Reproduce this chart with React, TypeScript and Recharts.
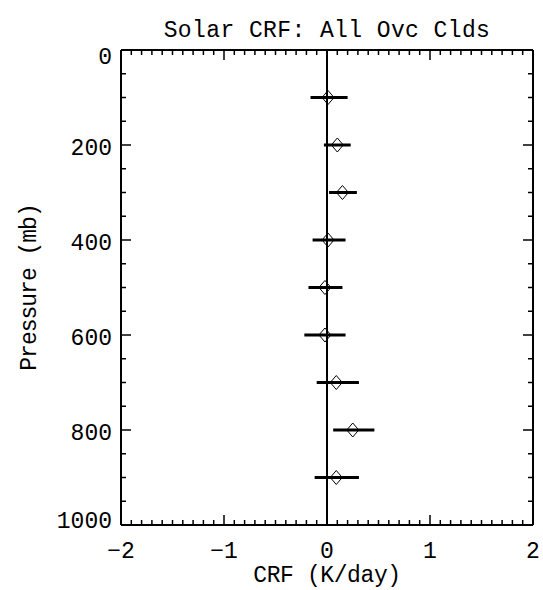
import { ScatterChart, Scatter, XAxis, YAxis, ErrorBar, ReferenceLine } from 'recharts';

// pressure levels (mb) and the cloud radiative forcing
const pressure = [100, 200, 300, 400, 500, 600, 700, 800, 900];
const crfMean = [0.01, 0.1, 0.15, 0.01, -0.02, -0.02, 0.09, 0.25, 0.09];
const crfLow = [-0.16, -0.03, 0.02, -0.14, -0.18, -0.22, -0.1, 0.06, -0.12];
const crfHigh = [0.2, 0.23, 0.29, 0.18, 0.15, 0.18, 0.31, 0.46, 0.31];

const xMajor = [-2, -1, 0, 1, 2];
const xLabels = ['\u22122', '\u22121', '0', '1', '2'];
const yMajor = [0, 200, 400, 600, 800, 1000];

const title = 'Solar CRF: All Ovc Clds';
const xTitle = 'CRF (K/day)';
const yTitle = 'Pressure (mb)';

// minor ticks every 0.1 on x and 50 mb on y
const xTicks = Array.from({ length: 41 }, (_, i) => Math.round((-2 + i * 0.1) * 10) / 10);
const yTicks = Array.from({ length: 21 }, (_, i) => i * 50);

const rows = pressure.map((p, i) => ({
  y: p,
  x: crfMean[i],
  err: [crfMean[i] - crfLow[i], crfHigh[i] - crfMean[i]],
}));

const FONT = '"Liberation Mono", "DejaVu Sans Mono", monospace';
const INK = '#000';

function XTick(props: any) {
  const { x, y, payload, side } = props;
  const v = payload.value;
  const idx = xMajor.indexOf(v);
  const len = idx >= 0 ? 10 : 5;
  const dir = side === 'top' ? 1 : -1;
  return (
    <g>
      <line x1={x} y1={y} x2={x} y2={y + dir * len} stroke={INK} strokeWidth={1.5} />
      {side === 'bottom' && idx >= 0 && (
        <text x={x} y={y + 33} textAnchor="middle" fontFamily={FONT} fontSize={23} fill={INK}>
          {xLabels[idx]}
        </text>
      )}
    </g>
  );
}

function YTick(props: any) {
  const { x, y, payload, side } = props;
  const v = payload.value;
  const major = yMajor.includes(v);
  const len = major ? 10 : 5;
  const dir = side === 'left' ? 1 : -1;
  const dy = v === 0 ? 14 : v === 1000 ? 3 : 9.5;
  return (
    <g>
      <line x1={x} y1={y} x2={x + dir * len} y2={y} stroke={INK} strokeWidth={1.5} />
      {side === 'left' && major && (
        <text x={x - 9} y={y + dy} textAnchor="end" fontFamily={FONT} fontSize={23} fill={INK}>
          {v}
        </text>
      )}
    </g>
  );
}

function Diamond(props: any) {
  const { cx, cy } = props;
  if (cx == null || cy == null) return <g />;
  const pts = `${cx},${cy - 7} ${cx + 6},${cy} ${cx},${cy + 7} ${cx - 6},${cy}`;
  return <polygon points={pts} fill="none" stroke={INK} strokeWidth={1} />;
}

const axisLine = { stroke: INK, strokeWidth: 2 };

export default function App() {
  return (
    <div style={{ position: 'absolute', left: 0, top: 0, width: 543, height: 590, background: '#fff' }}>
      <ScatterChart width={543} height={590} margin={{ top: 49, right: 9, bottom: 0, left: 0 }}>
        <XAxis
          xAxisId="b"
          type="number"
          dataKey="x"
          orientation="bottom"
          domain={[-2, 2]}
          allowDataOverflow
          ticks={xTicks}
          interval={0}
          height={65}
          tickSize={0}
          tickMargin={0}
          tickLine={false}
          axisLine={axisLine}
          tick={(p: any) => <XTick {...p} side="bottom" />}
          label={(p: any) => {
            const vb = p.viewBox;
            return (
              <text x={vb.x + vb.width / 2} y={vb.y + vb.height - 8} textAnchor="middle" fontFamily={FONT} fontSize={23} letterSpacing={-0.4} fill={INK}>
                {xTitle}
              </text>
            );
          }}
        />
        <XAxis
          xAxisId="t"
          type="number"
          dataKey="x"
          orientation="top"
          domain={[-2, 2]}
          allowDataOverflow
          ticks={xTicks}
          interval={0}
          height={1}
          tickSize={0}
          tickMargin={0}
          tickLine={false}
          axisLine={axisLine}
          tick={(p: any) => <XTick {...p} side="top" />}
          label={(p: any) => {
            const vb = p.viewBox;
            return (
              <text x={vb.x + vb.width / 2} y={vb.y - 12} textAnchor="middle" fontFamily={FONT} fontSize={23} letterSpacing={0.4} fill={INK}>
                {title}
              </text>
            );
          }}
        />
        <YAxis
          yAxisId="l"
          type="number"
          dataKey="y"
          orientation="left"
          domain={[0, 1000]}
          reversed
          allowDataOverflow
          ticks={yTicks}
          interval={0}
          width={121}
          tickSize={0}
          tickMargin={0}
          tickLine={false}
          axisLine={axisLine}
          tick={(p: any) => <YTick {...p} side="left" />}
          label={(p: any) => {
            const vb = p.viewBox;
            const cx = vb.x + 36;
            const cy = vb.y + vb.height / 2;
            return (
              <text x={cx} y={cy} transform={`rotate(-90 ${cx} ${cy})`} textAnchor="middle" fontFamily={FONT} fontSize={23} letterSpacing={-1} fill={INK}>
                {yTitle}
              </text>
            );
          }}
        />
        <YAxis
          yAxisId="r"
          type="number"
          dataKey="y"
          orientation="right"
          domain={[0, 1000]}
          reversed
          allowDataOverflow
          ticks={yTicks}
          interval={0}
          width={1}
          tickSize={0}
          tickMargin={0}
          tickLine={false}
          axisLine={axisLine}
          tick={(p: any) => <YTick {...p} side="right" />}
        />
        <ReferenceLine xAxisId="b" yAxisId="l" x={0} stroke={INK} strokeWidth={2} />
        <Scatter xAxisId="t" yAxisId="r" data={rows} shape={() => <g />} isAnimationActive={false} />
        <Scatter xAxisId="b" yAxisId="l" data={rows} shape={Diamond} isAnimationActive={false}>
          <ErrorBar dataKey="err" direction="x" width={0} stroke={INK} strokeWidth={3} isAnimationActive={false} />
        </Scatter>
      </ScatterChart>
    </div>
  );
}
